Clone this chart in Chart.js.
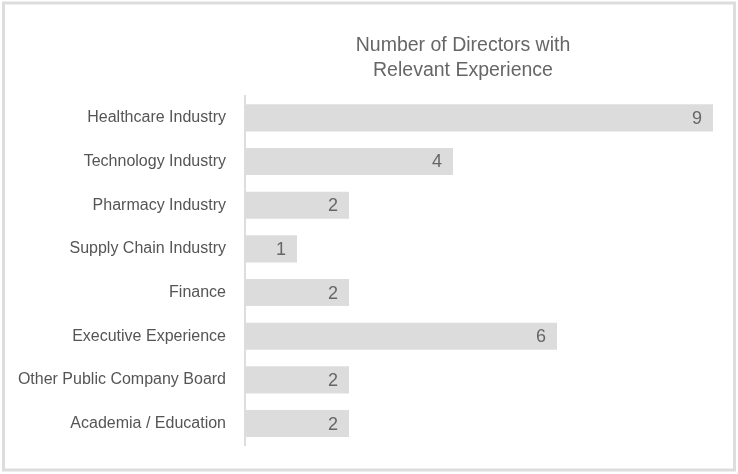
<!DOCTYPE html>
<html>
<head>
<meta charset="utf-8">
<script src="https://cdn.jsdelivr.net/npm/chart.js@4"></script>
<style>
  html, body { margin: 0; padding: 0; background: #fff; }
  #wrap { width: 738px; height: 474px; }
</style>
</head>
<body>
<div id="wrap"><canvas id="myChart"></canvas></div>
<script>
const categorias = [
  'Healthcare Industry',
  'Technology Industry',
  'Pharmacy Industry',
  'Supply Chain Industry',
  'Finance',
  'Executive Experience',
  'Other Public Company Board',
  'Academia / Education'
];
const directores = [9, 4, 2, 1, 2, 6, 2, 2];
const tituloLineas = ['Number of Directors with', 'Relevant Experience'];

// marco gris alrededor y titulo centrado sobre el area de barras
const marco = {
  id: 'marco',
  beforeDraw(chart) {
    const ctx = chart.ctx;
    ctx.save();
    ctx.strokeStyle = '#dddddd';
    ctx.lineWidth = 3;
    ctx.strokeRect(3.5, 3, 731, 467);
    ctx.fillStyle = '#666666';
    ctx.font = '19.5px "Liberation Sans", Arial, sans-serif';
    ctx.textAlign = 'center';
    ctx.textBaseline = 'middle';
    ctx.fillText(tituloLineas[0], 463, 46);
    ctx.fillText(tituloLineas[1], 463, 71);
    ctx.restore();
  }
};

// numero dentro del final de cada barra
const etiquetasValor = {
  id: 'etiquetasValor',
  afterDatasetsDraw(chart) {
    const ctx = chart.ctx;
    const meta = chart.getDatasetMeta(0);
    ctx.save();
    ctx.fillStyle = '#666666';
    ctx.font = '18px "Liberation Sans", Arial, sans-serif';
    ctx.textAlign = 'right';
    ctx.textBaseline = 'middle';
    meta.data.forEach((bar, i) => {
      ctx.fillText(String(directores[i]), bar.x - 11, bar.y + 1);
    });
    ctx.restore();
  }
};

const grafica = document.getElementById('myChart').getContext('2d');
new Chart(grafica, {
  type: 'bar',
  data: {
    labels: categorias,
    datasets: [{
      data: directores,
      backgroundColor: '#dcdcdd',
      borderWidth: 0,
      categoryPercentage: 1,
      barPercentage: 0.62
    }]
  },
  options: {
    indexAxis: 'y',
    responsive: true,
    maintainAspectRatio: false,
    animation: false,
    layout: { padding: { left: 0, right: 25, top: 96, bottom: 25 } },
    plugins: {
      legend: { display: false },
      title: { display: false },
      tooltip: { enabled: false }
    },
    scales: {
      x: {
        display: false,
        min: 0,
        max: 9
      },
      y: {
        grid: { display: false, drawTicks: false },
        border: { display: true, color: '#dddddd', width: 2 },
        ticks: {
          color: '#555555',
          padding: 19,
          font: { family: '"Liberation Sans", Arial, sans-serif', size: 16 }
        },
        afterFit(scale) { scale.width = 245; }
      }
    }
  },
  plugins: [marco, etiquetasValor]
});
</script>
</body>
</html>
